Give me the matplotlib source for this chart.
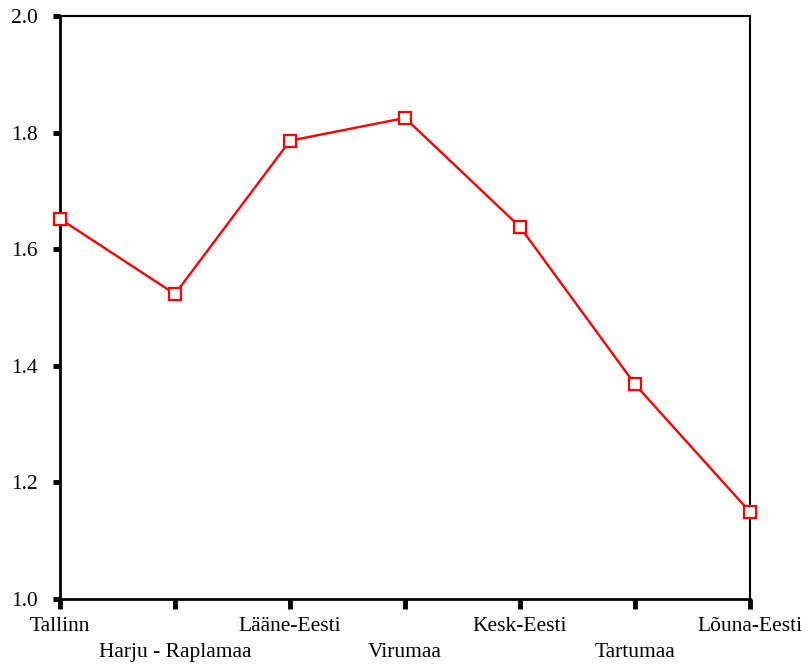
import matplotlib
matplotlib.use("Agg")
from matplotlib import pyplot as plt

regions = ["Tallinn", "Harju - Raplamaa", "Lääne-Eesti", "Virumaa",
           "Kesk-Eesti", "Tartumaa", "Lõuna-Eesti"]
means = [1.652, 1.523, 1.786, 1.825, 1.638, 1.368, 1.149]
y_ticks = [1.0, 1.2, 1.4, 1.6, 1.8, 2.0]

plt.rcParams['font.family'] = ['Liberation Serif', 'DejaVu Serif']

fig = plt.figure(figsize=(8.1, 6.64), dpi=100)
ax = fig.add_axes([0.074, 0.098, 0.852, 0.878])

x = list(range(len(regions)))
ax.plot(x, means, color='red', lw=1.7, marker='s', markersize=8.5,
        markerfacecolor='white', markeredgecolor='red', markeredgewidth=1.6,
        clip_on=False, zorder=3)

ax.set_xlim(0, len(regions) - 1)
ax.set_ylim(1.0, 2.0)
ax.set_yticks(y_ticks)
ax.set_yticklabels([f"{v:.1f}" for v in y_ticks], fontsize=15.5)

# labels alternate on two rows: even on major ticks, odd on minor ticks
ax.set_xticks(x[0::2])
ax.set_xticklabels(regions[0::2], fontsize=15.5)
ax.set_xticks(x[1::2], minor=True)
ax.set_xticklabels(regions[1::2], minor=True, fontsize=15.5)

ax.tick_params(axis='y', length=5, width=3.5, pad=11, direction='out')
ax.tick_params(axis='x', which='both', length=7, width=3.5, direction='out')
ax.tick_params(axis='x', which='major', pad=6)
ax.tick_params(axis='x', which='minor', pad=25)

for s in ax.spines.values():
    s.set_linewidth(1.5)
ax.spines['left'].set_linewidth(2)
ax.spines['bottom'].set_linewidth(2)

fig.savefig("out.png", dpi=100)
